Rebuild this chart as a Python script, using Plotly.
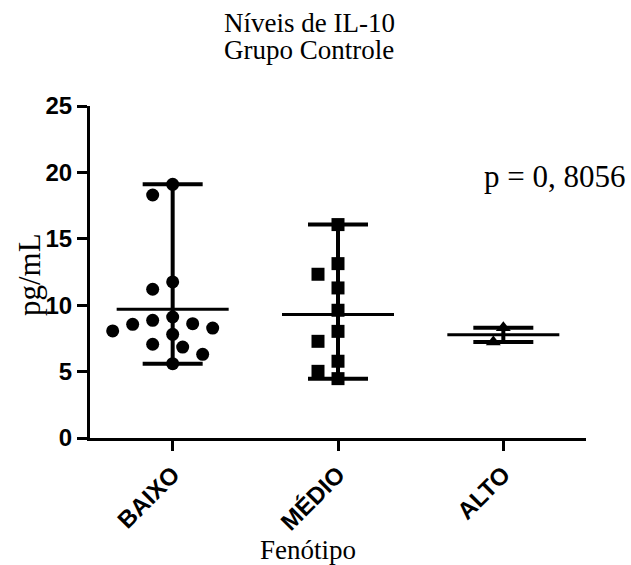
import plotly.graph_objects as go

# ---- data ----
categories = ["BAIXO", "MÉDIO", "ALTO"]
baixo = [19.1, 18.3, 11.75, 11.2, 9.11, 8.86, 8.61, 8.56, 8.28, 8.06, 7.81, 7.06, 6.85, 6.30, 5.60]
medio = [16.07, 13.13, 12.33, 11.3, 9.62, 8.03, 7.28, 5.78, 5.02, 4.47]
alto = [8.31, 7.23]
y_ticks = [0, 5, 10, 15, 20, 25]
p_text = "p = 0, 8056"

groups = [baixo, medio, alto]
symbols = ["circle", "square", "triangle-up"]

# ---- layout geometry ----
W, H = 631, 565
ML, MR, MT, MB = 90, 45, 106, 127
PW, PH = W - ML - MR, H - MT - MB
PX_X = PW / 3.0      # px per category unit
PX_Y = PH / 25.0     # px per y unit


def swarm(values, diam=16.0, step=10.0):
    order = sorted(range(len(values)), key=lambda i: -values[i])
    placed = []
    offs = [0.0] * len(values)
    for i in order:
        y = values[i] * PX_Y
        ok = 0.0
        for k in range(0, 30):
            cands = [0] if k == 0 else [-k, k]
            found = None
            for c in cands:
                dx = c * step
                if all((dx - px) ** 2 + (y - py) ** 2 >= diam ** 2 for px, py in placed):
                    found = dx
                    break
            if found is not None:
                ok = found
                break
        placed.append((ok, y))
        offs[i] = ok / PX_X
    return offs


fig = go.Figure()
MEAN_HW = 56 / PX_X
CAP_HW = 30 / PX_X

for gi, vals in enumerate(groups):
    mean = sum(vals) / len(vals)
    lo, hi = min(vals), max(vals)
    # vertical range line
    fig.add_trace(go.Scatter(x=[gi, gi], y=[lo, hi], mode="lines",
                             line=dict(color="black", width=4), hoverinfo="skip"))
    # caps
    for v in (lo, hi):
        fig.add_trace(go.Scatter(x=[gi - CAP_HW, gi + CAP_HW], y=[v, v], mode="lines",
                                 line=dict(color="black", width=4), hoverinfo="skip"))
    # mean
    fig.add_trace(go.Scatter(x=[gi - MEAN_HW, gi + MEAN_HW], y=[mean, mean], mode="lines",
                             line=dict(color="black", width=3), hoverinfo="skip"))
    offs = swarm(vals)
    fig.add_trace(go.Scatter(x=[gi + o for o in offs], y=vals, mode="markers",
                             marker=dict(symbol=symbols[gi], size=13, color="black",
                                         line=dict(width=0)),
                             cliponaxis=False))

serif = "Liberation Serif, Times New Roman, serif"
sans = "Liberation Sans, Arial, sans-serif"


def px_to_paper_x(px):
    return (px - ML) / PW


def px_to_paper_y(py):
    return (H - MB - py) / PH


annotations = [
    dict(text="Níveis de IL-10", x=px_to_paper_x(309), y=px_to_paper_y(23),
         font=dict(family=serif, size=27, color="black")),
    dict(text="Grupo Controle", x=px_to_paper_x(309), y=px_to_paper_y(50),
         font=dict(family=serif, size=27, color="black")),
    dict(text=p_text, x=px_to_paper_x(554), y=px_to_paper_y(176),
         font=dict(family=serif, size=31, color="black")),
    dict(text="pg/mL", x=px_to_paper_x(29), y=px_to_paper_y(275), textangle=-90,
         font=dict(family=serif, size=31, color="black")),
    dict(text="Fenótipo", x=px_to_paper_x(308), y=px_to_paper_y(550),
         font=dict(family=serif, size=27, color="black")),
]
for a in annotations:
    a.update(xref="paper", yref="paper", showarrow=False, xanchor="center", yanchor="middle")

fig.update_layout(
    width=W, height=H,
    margin=dict(l=ML, r=MR, t=MT, b=MB, pad=0),
    paper_bgcolor="white", plot_bgcolor="white",
    showlegend=False,
    annotations=annotations,
    xaxis=dict(range=[-0.5, 2.5], tickvals=[0, 1, 2], ticktext=categories,
               showline=True, linecolor="black", linewidth=3,
               ticks="outside", ticklen=10, tickwidth=3, tickcolor="black",
               tickangle=-45, showgrid=False, zeroline=False,
               tickfont=dict(family=sans, size=24, color="black", weight="bold")),
    yaxis=dict(range=[0, 25], tickvals=y_ticks, ticktext=[str(t) for t in y_ticks],
               showline=True, linecolor="black", linewidth=3,
               ticks="outside", ticklen=10, tickwidth=3, tickcolor="black",
               showgrid=False, zeroline=False,
               tickfont=dict(family=sans, size=24, color="black", weight="bold")),
)

fig.write_html("out.html",
               config={"displayModeBar": False},
               post_script="document.body.style.margin='0px';document.body.style.overflow='hidden';")
